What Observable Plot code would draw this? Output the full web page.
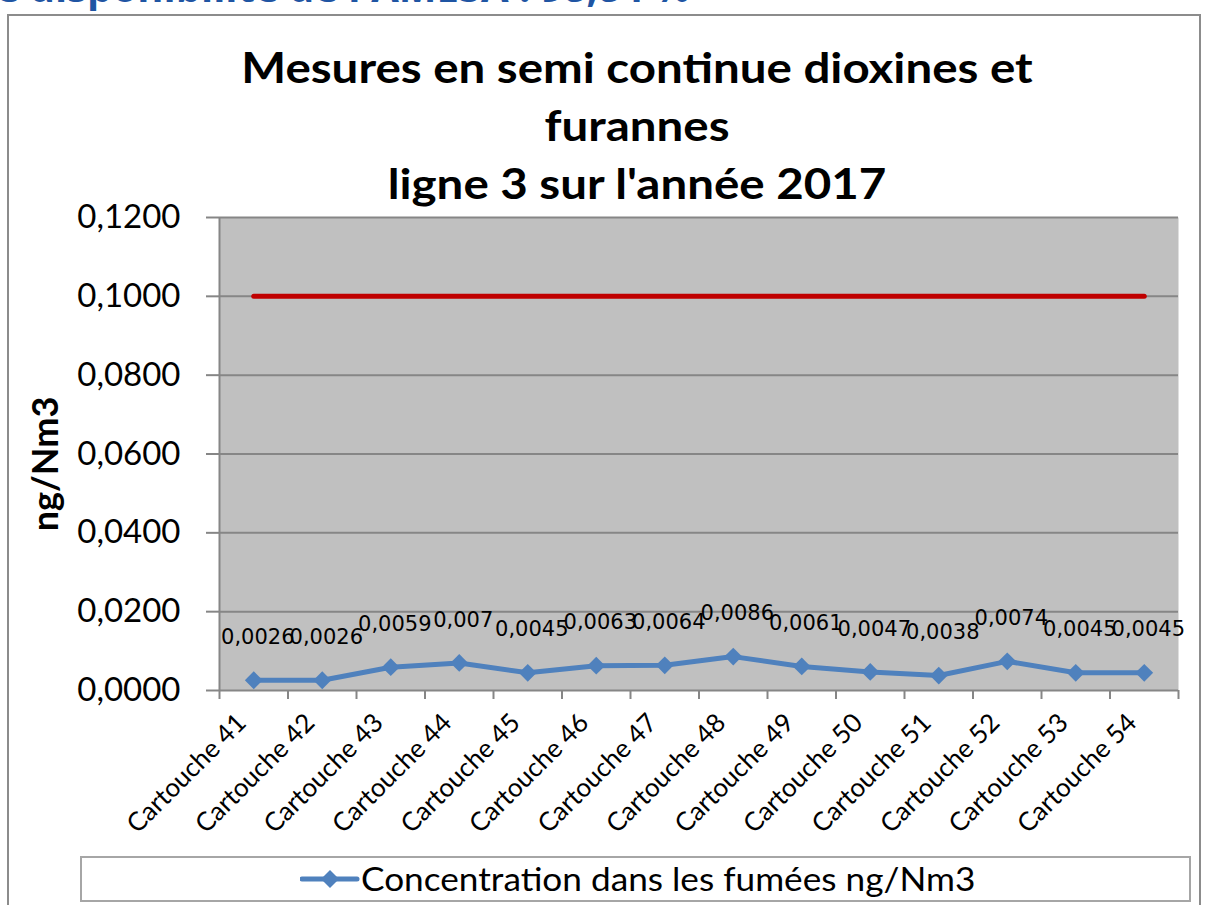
<!DOCTYPE html>
<html><head><meta charset="utf-8">
<script src="https://cdn.jsdelivr.net/npm/d3@7"></script>
<script src="https://cdn.jsdelivr.net/npm/@observablehq/plot@0.6"></script>
<style>
body{margin:0;background:#fff;font-family:Lato, sans-serif;}
#wrap{position:relative;width:1212px;height:905px;overflow:hidden;background:#fff;}
#head{position:absolute;right:522px;top:-33px;font:bold 40px/40px "Open Sans";color:#1f55a3;white-space:nowrap;}
#frame{position:absolute;left:7px;top:14px;width:1194px;height:960px;border:2px solid #8c8c8c;box-sizing:border-box;}
#title{position:absolute;left:237px;width:800px;top:38px;text-align:center;font:bold 42px/58px Lato;color:#000;transform:scaleX(1.13);transform-origin:400px 0;}
#chart{position:absolute;left:0;top:200px;}
#legend{position:absolute;left:80px;top:856px;width:1111px;height:46px;border:2px solid #a6a6a6;box-sizing:border-box;background:#fff;}
#legend svg{position:absolute;left:218px;top:6px;}
#legend span{position:absolute;left:279px;top:2px;font:32px/38px Lato;color:#000;white-space:nowrap;transform:scaleX(1.1);transform-origin:0 0;}
</style></head>
<body>
<div id="wrap">
  <div id="head"></div>
  <div id="frame"></div>
  <div id="title"></div>
  <div id="chart"></div>
  <div id="legend"><svg width="60" height="30"><line x1="2" y1="15" x2="57" y2="15" stroke="#4f81bd" stroke-width="5" stroke-linecap="round"/><path d="M30,6L39,15L30,24L21,15Z" fill="#4f81bd"/></svg><span></span></div>
</div>
<script>
const headerText = "Taux de disponibilité de l'AMESA : 98,84 %";
const titleLines = ["Mesures en semi continue dioxines et", "furannes", "ligne 3 sur l'année 2017"];
const yTitle = "ng/Nm3";
const legendText = "Concentration dans les fumées ng/Nm3";
const categories = ["Cartouche 41","Cartouche 42","Cartouche 43","Cartouche 44","Cartouche 45","Cartouche 46","Cartouche 47","Cartouche 48","Cartouche 49","Cartouche 50","Cartouche 51","Cartouche 52","Cartouche 53","Cartouche 54"];
const concentration = [0.0026,0.0026,0.0059,0.007,0.0045,0.0063,0.0064,0.0086,0.0061,0.0047,0.0038,0.0074,0.0045,0.0045];
const limitValue = [0.1,0.1,0.1,0.1,0.1,0.1,0.1,0.1,0.1,0.1,0.1,0.1,0.1,0.1];
const yTicks = [0,0.02,0.04,0.06,0.08,0.10,0.12];

document.getElementById("head").textContent = headerText;
document.getElementById("title").innerHTML = titleLines.map(t => `<div>${t}</div>`).join("");
document.querySelector("#legend span").textContent = legendText;

const data = categories.map((c, i) => ({i, c, v: concentration[i], lim: limitValue[i]}));
const xPos = d => d.i + 0.5;
const comma = v => String(v).replace(".", ",");

const chart = Plot.plot({
  width: 1212,
  height: 660,
  marginTop: 17,
  marginBottom: 170,
  marginLeft: 219,
  marginRight: 34,
  style: {fontFamily: "Lato, sans-serif", background: "transparent", overflow: "visible"},
  x: {type: "linear", domain: [0, categories.length]},
  y: {domain: [0, 0.12]},
  marks: [
    Plot.frame({fill: "#c0c0c0", stroke: null}),
    Plot.ruleY(yTicks, {stroke: "#868686", strokeWidth: 2}),
    Plot.ruleX([0], {stroke: "#868686", strokeWidth: 2}),
    Plot.axisY({ticks: yTicks, tickSize: 13, tickPadding: 26, tickFormat: v => v.toFixed(4).replace(".", ","),
      fontSize: 33, stroke: "#868686", strokeWidth: 2, fill: "#000", label: null}),
    Plot.axisX({ticks: d3.range(categories.length + 1), tickSize: 9, tickFormat: () => "",
      stroke: "#868686", strokeWidth: 2, label: null}),
    Plot.axisX({ticks: d3.range(categories.length).map(i => i + 0.5), tickFormat: v => categories[Math.floor(v)],
      tickSize: 0, tickRotate: -45, tickPadding: 28, dx: -12, fontSize: 26, fill: "#000", label: null}),
    Plot.text([yTitle], {frameAnchor: "left", textAnchor: "middle", rotate: -90, dx: -173, dy: 10, fontSize: 36, fontWeight: "bold", fill: "#000"}),
    Plot.line(data, {x: xPos, y: "lim", stroke: "#c00000", strokeWidth: 5, strokeLinecap: "round"}),
    Plot.line(data, {x: xPos, y: "v", stroke: "#4f81bd", strokeWidth: 5}),
    Plot.dot(data, {x: xPos, y: "v", symbol: "diamond2", r: 8, fill: "#4f81bd", stroke: null}),
    Plot.text(data, {x: xPos, y: "v", text: d => comma(d.v), dy: -43, dx: 4, fontSize: 21, fontFamily: "DejaVu Sans", fill: "#000"})
  ]
});
document.getElementById("chart").appendChild(chart);
</script>
</body></html>
